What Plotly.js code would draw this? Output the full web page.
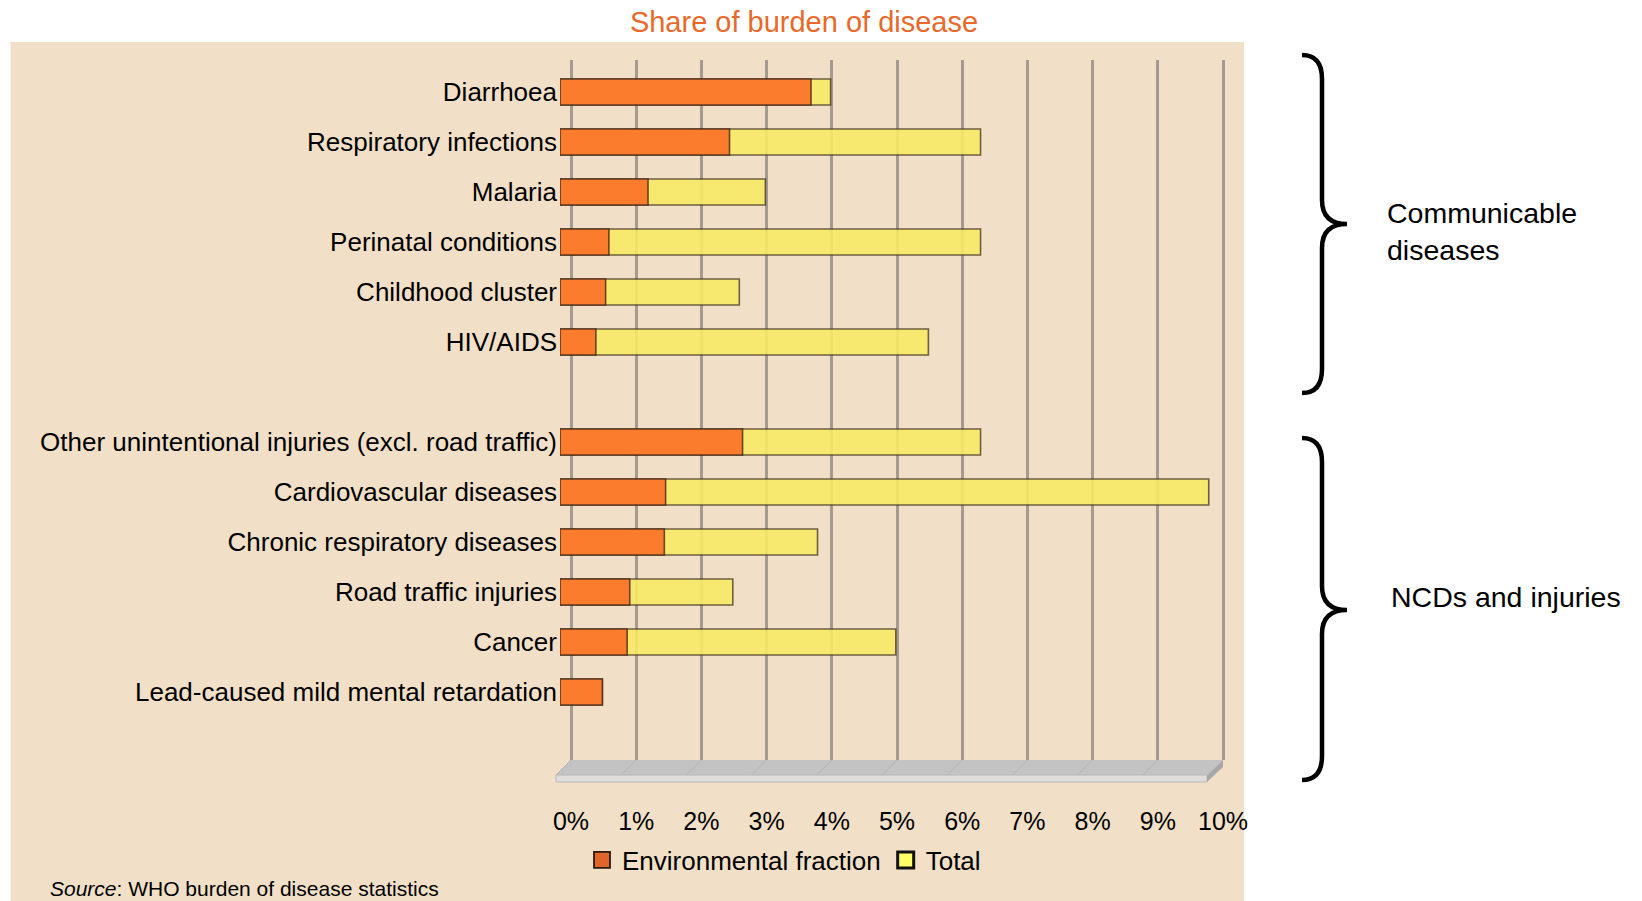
<!DOCTYPE html>
<html>
<head>
<meta charset="utf-8">
<script src="https://cdn.plot.ly/plotly-3.0.1.min.js"></script>
<style>html,body{margin:0;padding:0;background:#fff;}#chart{width:1642px;height:901px;}</style>
</head>
<body>
<div id="chart"></div>
<script>
// ---- data (share of total burden of disease, %) ----
var categories = [
  "Diarrhoea",
  "Respiratory infections",
  "Malaria",
  "Perinatal conditions",
  "Childhood cluster",
  "HIV/AIDS",
  "Other unintentional injuries (excl. road traffic)",
  "Cardiovascular diseases",
  "Chronic respiratory diseases",
  "Road traffic injuries",
  "Cancer",
  "Lead-caused mild mental retardation"
];
var categoryOrder = [
  "Diarrhoea", "Respiratory infections", "Malaria", "Perinatal conditions",
  "Childhood cluster", "HIV/AIDS", " ",
  "Other unintentional injuries (excl. road traffic)", "Cardiovascular diseases",
  "Chronic respiratory diseases", "Road traffic injuries", "Cancer",
  "Lead-caused mild mental retardation"
];
var environmentalFraction = [3.85, 2.6, 1.35, 0.75, 0.7, 0.55, 2.8, 1.62, 1.6, 1.07, 1.03, 0.65];
var totalBurden          = [4.15, 6.45, 3.15, 6.45, 2.75, 5.65, 6.45, 9.95, 3.95, 2.65, 5.15, 0.65];
var tickValues = [0, 1, 2, 3, 4, 5, 6, 7, 8, 9, 10];
var tickLabels = ["0%", "1%", "2%", "3%", "4%", "5%", "6%", "7%", "8%", "9%", "10%"];
var groupNames = ["Communicable<br>diseases", "NCDs and injuries"];

// ---- layout geometry (pixels) ----
var W = 1642, H = 901;
var L = 556, R = 1228, T = 60, B = 760;
var UNIT = 65.2;            // pixels per 1 %
var GRID0 = 571;            // back-wall 0 % position
var BAR0 = 560;             // front (bar) 0 % position
function PX(px) { return (px - L) / (R - L); }
function PY(py) { return (B - py) / (B - T); }
function P(px, py) { return PX(px).toFixed(5) + "," + PY(py).toFixed(5); }

var FONT = "Liberation Sans, Arial, Helvetica, sans-serif";

var traces = [
  { type: "scatter", x: [], y: [], xaxis: "x", yaxis: "y", showlegend: false, hoverinfo: "skip" },
  {
    type: "bar", orientation: "h", name: "Total", showlegend: false,
    y: categories, x: totalBurden, xaxis: "x2", yaxis: "y",
    width: 0.52,
    marker: { color: "#F8EA66", opacity: 0.9, line: { color: "rgba(70,55,30,0.85)", width: 1.6 } },
    hoverinfo: "x+y"
  },
  {
    type: "bar", orientation: "h", name: "Environmental fraction", showlegend: false,
    y: categories, x: environmentalFraction, xaxis: "x2", yaxis: "y",
    width: 0.52,
    marker: { color: "#FD772A", opacity: 0.95, line: { color: "rgba(70,40,20,0.85)", width: 1.6 } },
    hoverinfo: "x+y"
  },
  // legend entries
  { type: "scatter", mode: "markers", name: "Environmental fraction", x: [null], y: [null],
    xaxis: "x2", yaxis: "y", hoverinfo: "skip",
    marker: { symbol: "square", size: 16, color: "#E0652A", line: { color: "#2a1a10", width: 1.8 } } },
  { type: "scatter", mode: "markers", name: "Total", x: [null], y: [null],
    xaxis: "x2", yaxis: "y", hoverinfo: "skip",
    marker: { symbol: "square", size: 16, color: "#FFFF66", line: { color: "#111", width: 3 } } }
];

// braces
function bracePath(x0, xs, xt, y0, yt, y1) {
  var c = 24;
  return "M" + P(x0, y0) + " Q" + P(xs, y0) + " " + P(xs, y0 + c) +
         " L" + P(xs, yt - c) + " Q" + P(xs, yt) + " " + P(xt, yt) +
         " Q" + P(xs, yt) + " " + P(xs, yt + c) +
         " L" + P(xs, y1 - c) + " Q" + P(xs, y1) + " " + P(x0, y1);
}

var shapes = [
  // beige chart area
  { type: "rect", xref: "paper", yref: "paper", layer: "below",
    x0: PX(10.5), x1: PX(1244), y0: PY(42), y1: PY(910),
    fillcolor: "#F1E0C7", line: { width: 0 } },
  // floor top face
  { type: "path", xref: "paper", yref: "paper", layer: "below",
    path: "M" + P(571, 760) + " L" + P(1223, 760) + " L" + P(1207, 775) + " L" + P(556, 775) + " Z",
    fillcolor: "#C3C3C3", line: { width: 0 } },
  // floor front face
  { type: "path", xref: "paper", yref: "paper", layer: "below",
    path: "M" + P(556, 775) + " L" + P(1207, 775) + " L" + P(1207, 782) + " L" + P(556, 782) + " Z",
    fillcolor: "#DEDEDE", line: { color: "#B8B8B8", width: 1 } },
  // floor right side
  { type: "path", xref: "paper", yref: "paper", layer: "below",
    path: "M" + P(1207, 775) + " L" + P(1223, 760) + " L" + P(1223, 767) + " L" + P(1207, 782) + " Z",
    fillcolor: "#A8A8A8", line: { width: 0 } },
  // braces
  { type: "path", xref: "paper", yref: "paper", layer: "above",
    path: bracePath(1302, 1322, 1347, 55, 224, 393),
    line: { color: "#000", width: 4.5 } },
  { type: "path", xref: "paper", yref: "paper", layer: "above",
    path: bracePath(1302, 1322, 1347, 438, 610, 780),
    line: { color: "#000", width: 4.5 } }
];
// faint grid continuation on the floor
tickValues.forEach(function (v) {
  var xb = GRID0 + v * UNIT;
  shapes.push({ type: "line", xref: "paper", yref: "paper", layer: "below",
    x0: PX(xb), y0: PY(760), x1: PX(xb - 15), y1: PY(775),
    line: { color: "#B3B3B3", width: 1 } });
});

var PADR = 0.05;
var layout = {
  width: W, height: H,
  margin: { l: L, r: W - R, t: T, b: H - B, pad: 0 },
  paper_bgcolor: "#FFFFFF",
  plot_bgcolor: "rgba(0,0,0,0)",
  font: { family: FONT, color: "#000", size: 26 },
  title: {
    text: "Share of burden of disease",
    font: { family: FONT, size: 29, color: "#E8692A" },
    xref: "container", x: 804 / W, xanchor: "center",
    yref: "container", y: 1 - 21.5 / H, yanchor: "middle"
  },
  barmode: "overlay",
  showlegend: true,
  legend: {
    orientation: "h",
    x: PX(784), xanchor: "center", y: PY(860), yanchor: "middle",
    font: { family: FONT, size: 26, color: "#000" },
    bgcolor: "rgba(0,0,0,0)", itemwidth: 30
  },
  xaxis: {
    domain: [PX(GRID0 - PADR * UNIT), PX(GRID0 + (10 + PADR) * UNIT)], anchor: "y",
    range: [-PADR, 10 + PADR], tickmode: "array", tickvals: tickValues, ticktext: tickLabels,
    showgrid: true, gridcolor: "#A39B90", gridwidth: 3,
    zeroline: false, showline: false, ticks: "",
    ticklabelstandoff: 44,
    tickfont: { family: FONT, size: 25, color: "#000" },
    fixedrange: true
  },
  xaxis2: {
    domain: [PX(BAR0), PX(BAR0 + 10 * UNIT)], anchor: "y",
    range: [0, 10],
    showgrid: false, zeroline: false, showline: false, showticklabels: false, ticks: "",
    fixedrange: true
  },
  yaxis: {
    anchor: "x2",
    type: "category", categoryorder: "array", categoryarray: categoryOrder,
    range: [13.36, -0.64],
    showgrid: false, zeroline: false, showline: false, ticks: "",
    ticklabelstandoff: 2,
    tickfont: { family: FONT, size: 26, color: "#000" },
    fixedrange: true
  },
  shapes: shapes,
  annotations: [
    { xref: "paper", yref: "paper", x: PX(1385), y: PY(232), xanchor: "left", yanchor: "middle",
      align: "left", showarrow: false, text: groupNames[0],
      font: { family: FONT, size: 28.5, color: "#000" } },
    { xref: "paper", yref: "paper", x: PX(1389), y: PY(597), xanchor: "left", yanchor: "middle",
      align: "left", showarrow: false, text: groupNames[1],
      font: { family: FONT, size: 28.5, color: "#000" } },
    { xref: "paper", yref: "paper", x: PX(48), y: PY(875), xanchor: "left", yanchor: "top",
      align: "left", showarrow: false, text: "<i>Source</i>: WHO burden of disease statistics",
      font: { family: FONT, size: 21, color: "#000" } }
  ]
};

Plotly.newPlot("chart", traces, layout, { displayModeBar: false, staticPlot: true });
</script>
</body>
</html>
